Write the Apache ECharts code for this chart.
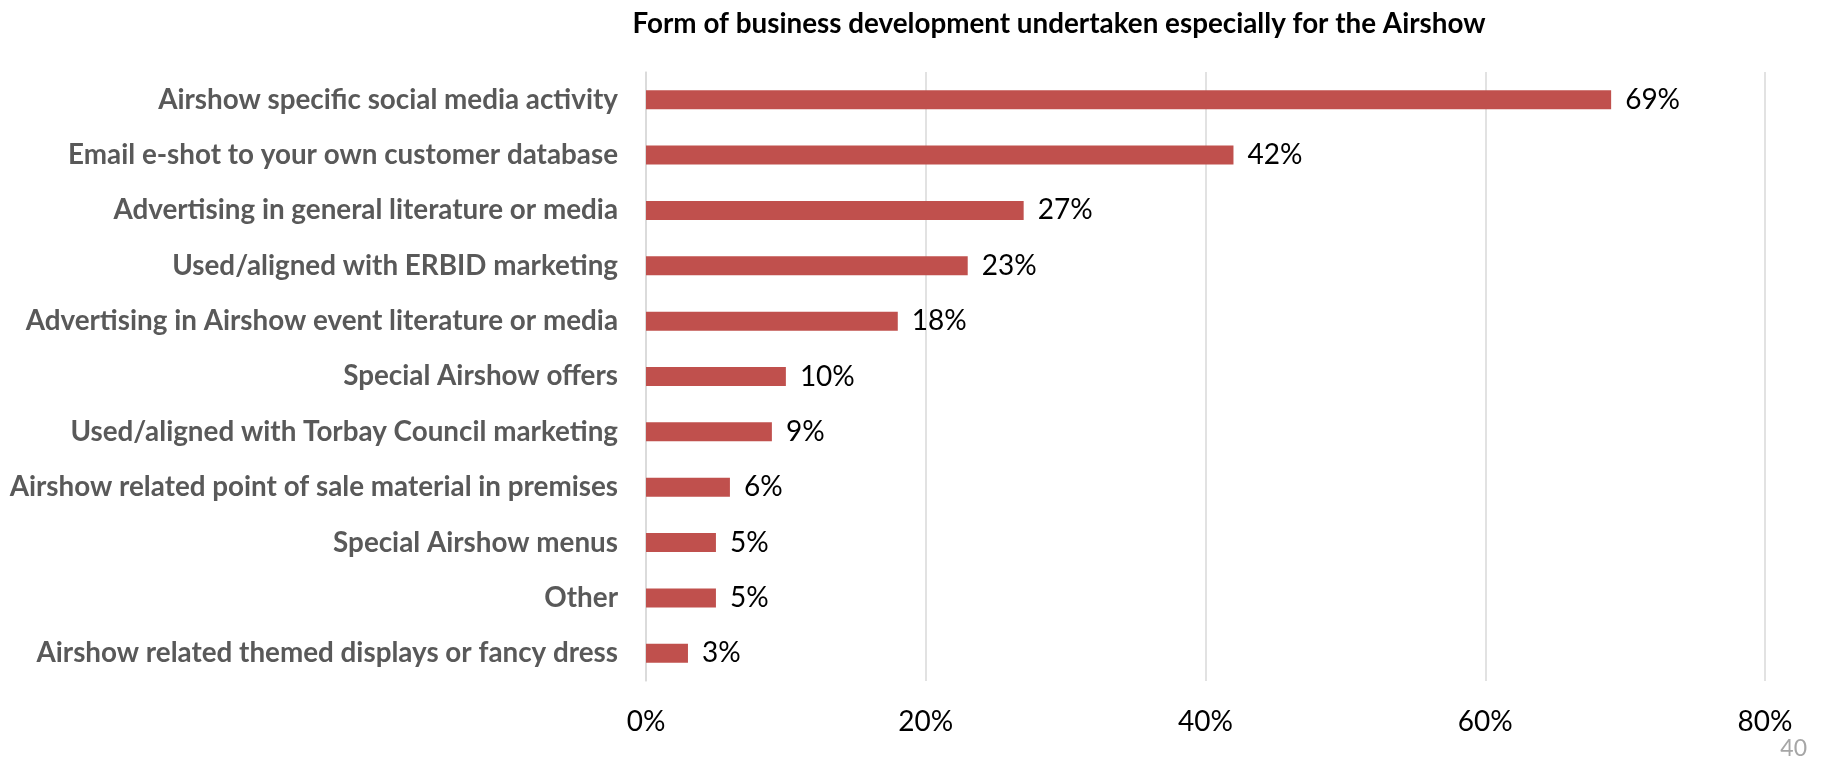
<!DOCTYPE html>
<html>
<head>
<meta charset="utf-8">
<style>
  html, body { margin: 0; padding: 0; background: #ffffff; }
  #chart { width: 1825px; height: 757px; }
</style>
<script src="https://cdn.jsdelivr.net/npm/echarts@6/dist/echarts.min.js"></script>
</head>
<body>
<div id="chart"></div>
<script>
// Survey responses: form of business development undertaken for the Airshow
const categories = [
  'Airshow specific social media activity',
  'Email e-shot to your own customer database',
  'Advertising in general literature or media',
  'Used/aligned with ERBID marketing',
  'Advertising in Airshow event literature or media',
  'Special Airshow offers',
  'Used/aligned with Torbay Council marketing',
  'Airshow related point of sale material in premises',
  'Special Airshow menus',
  'Other',
  'Airshow related themed displays or fancy dress'
];
const percentages = [69, 42, 27, 23, 18, 10, 9, 6, 5, 5, 3];
const axisTicks = [0, 20, 40, 60, 80];

const chartTitle = 'Form of business development undertaken especially for the Airshow';
const pageNumber = '40';

const chart = echarts.init(document.getElementById('chart'));

chart.setOption({
  animation: false,
  backgroundColor: '#ffffff',
  title: {
    text: chartTitle,
    left: 1054,
    top: 5,
    textAlign: 'center',
    textStyle: {
      fontFamily: 'Lato, sans-serif',
      fontWeight: 'bold',
      fontSize: 27.8,
      color: '#000000'
    }
  },
  grid: {
    left: 646,
    right: 60,
    top: 72,
    bottom: 76,
    containLabel: false
  },
  xAxis: {
    type: 'value',
    min: axisTicks[0],
    max: axisTicks[axisTicks.length - 1],
    interval: axisTicks[1] - axisTicks[0],
    axisLine: { show: false },
    axisTick: { show: false },
    splitLine: { show: true, lineStyle: { color: '#d9d9d9', width: 1.5 } },
    axisLabel: {
      margin: 27,
      formatter: v => v + '%',
      fontFamily: 'Lato, sans-serif',
      fontSize: 28,
      color: '#000000'
    }
  },
  yAxis: {
    type: 'category',
    inverse: true,
    data: categories,
    axisLine: { show: true, lineStyle: { color: '#d9d9d9', width: 1.5 } },
    axisTick: { show: false },
    axisLabel: {
      margin: 28,
      fontFamily: 'Lato, sans-serif',
      fontWeight: 'bold',
      fontSize: 27.8,
      color: '#595959'
    }
  },
  series: [{
    type: 'bar',
    data: percentages,
    barWidth: 19,
    itemStyle: { color: '#c0504d' },
    label: {
      show: true,
      position: 'right',
      distance: 14,
      formatter: p => p.value + '%',
      fontFamily: 'Lato, sans-serif',
      fontSize: 28,
      color: '#000000'
    }
  }],
  graphic: [{
    type: 'text',
    right: 18,
    bottom: -3,
    style: {
      text: pageNumber,
      fontFamily: 'Lato, sans-serif',
      fontSize: 23,
      fill: '#a6a6a6'
    }
  }]
});
</script>
</body>
</html>
